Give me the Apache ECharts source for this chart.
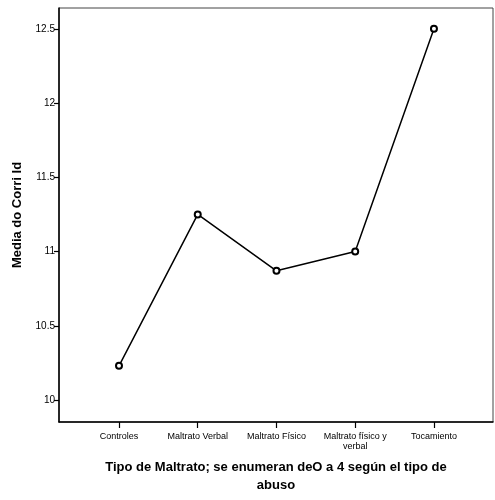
<!DOCTYPE html>
<html>
<head>
<meta charset="utf-8">
<script src="https://cdn.jsdelivr.net/npm/echarts@6/dist/echarts.min.js"></script>
<style>html,body{margin:0;padding:0;background:#fff}#c{width:495px;height:500px}</style>
</head>
<body>
<div id="c"></div>
<script>
const categories = ["Controles", "Maltrato Verbal", "Maltrato Físico", "Maltrato físico y\nverbal", "Tocamiento"];
const means = [10.23, 11.25, 10.87, 11.0, 12.5];
const yTicks = [10, 10.5, 11, 11.5, 12, 12.5];
const xTicks = [0, 1, 2, 3, 4];

const chart = echarts.init(document.getElementById('c'), null, {renderer: 'canvas'});
chart.setOption({
  animation: false,
  backgroundColor: '#fff',
  grid: {left: 59, top: 8, right: 2, bottom: 78, show: true, borderColor: '#444', borderWidth: 1, backgroundColor: 'transparent'},
  xAxis: {
    type: 'value', min: -0.762, max: 4.75,
    axisLine: {show: true, onZero: false, lineStyle: {color: '#000', width: 1.5}},
    axisTick: {show: true, customValues: xTicks, length: 6, lineStyle: {color: '#000', width: 1.2}},
    axisLabel: {show: true, customValues: xTicks, color: '#000', fontSize: 9, fontFamily: 'Liberation Sans, Arial', lineHeight: 10, margin: 10,
      formatter: v => categories[Math.round(v)] || ''},
    splitLine: {show: false},
    name: 'Tipo de Maltrato; se enumeran deO a 4 según el tipo de\nabuso',
    nameLocation: 'middle', nameGap: 36,
    nameTextStyle: {color: '#000', fontSize: 13, fontWeight: 'bold', fontFamily: 'Liberation Sans, Arial', lineHeight: 18, verticalAlign: 'top'}
  },
  yAxis: {
    type: 'value', min: 9.852, max: 12.64,
    axisLine: {show: true, onZero: false, lineStyle: {color: '#000', width: 1.5}},
    axisTick: {show: true, customValues: yTicks, length: 5, lineStyle: {color: '#000', width: 1.2}},
    axisLabel: {show: true, customValues: yTicks, color: '#000', fontSize: 10, fontFamily: 'Liberation Sans, Arial', margin: 4,
      formatter: v => String(v)},
    splitLine: {show: false},
    name: 'Media do Corri Id',
    nameLocation: 'middle', nameGap: 35,
    nameTextStyle: {color: '#000', fontSize: 13, fontWeight: 'bold', fontFamily: 'Liberation Sans, Arial'}
  },
  series: [{
    type: 'line',
    data: means.map((v, i) => [xTicks[i], v]),
    symbol: 'emptyCircle', symbolSize: 6,
    lineStyle: {color: '#000', width: 1.5},
    itemStyle: {color: '#000', borderColor: '#000', borderWidth: 1.5}
  }]
});
</script>
</body>
</html>
